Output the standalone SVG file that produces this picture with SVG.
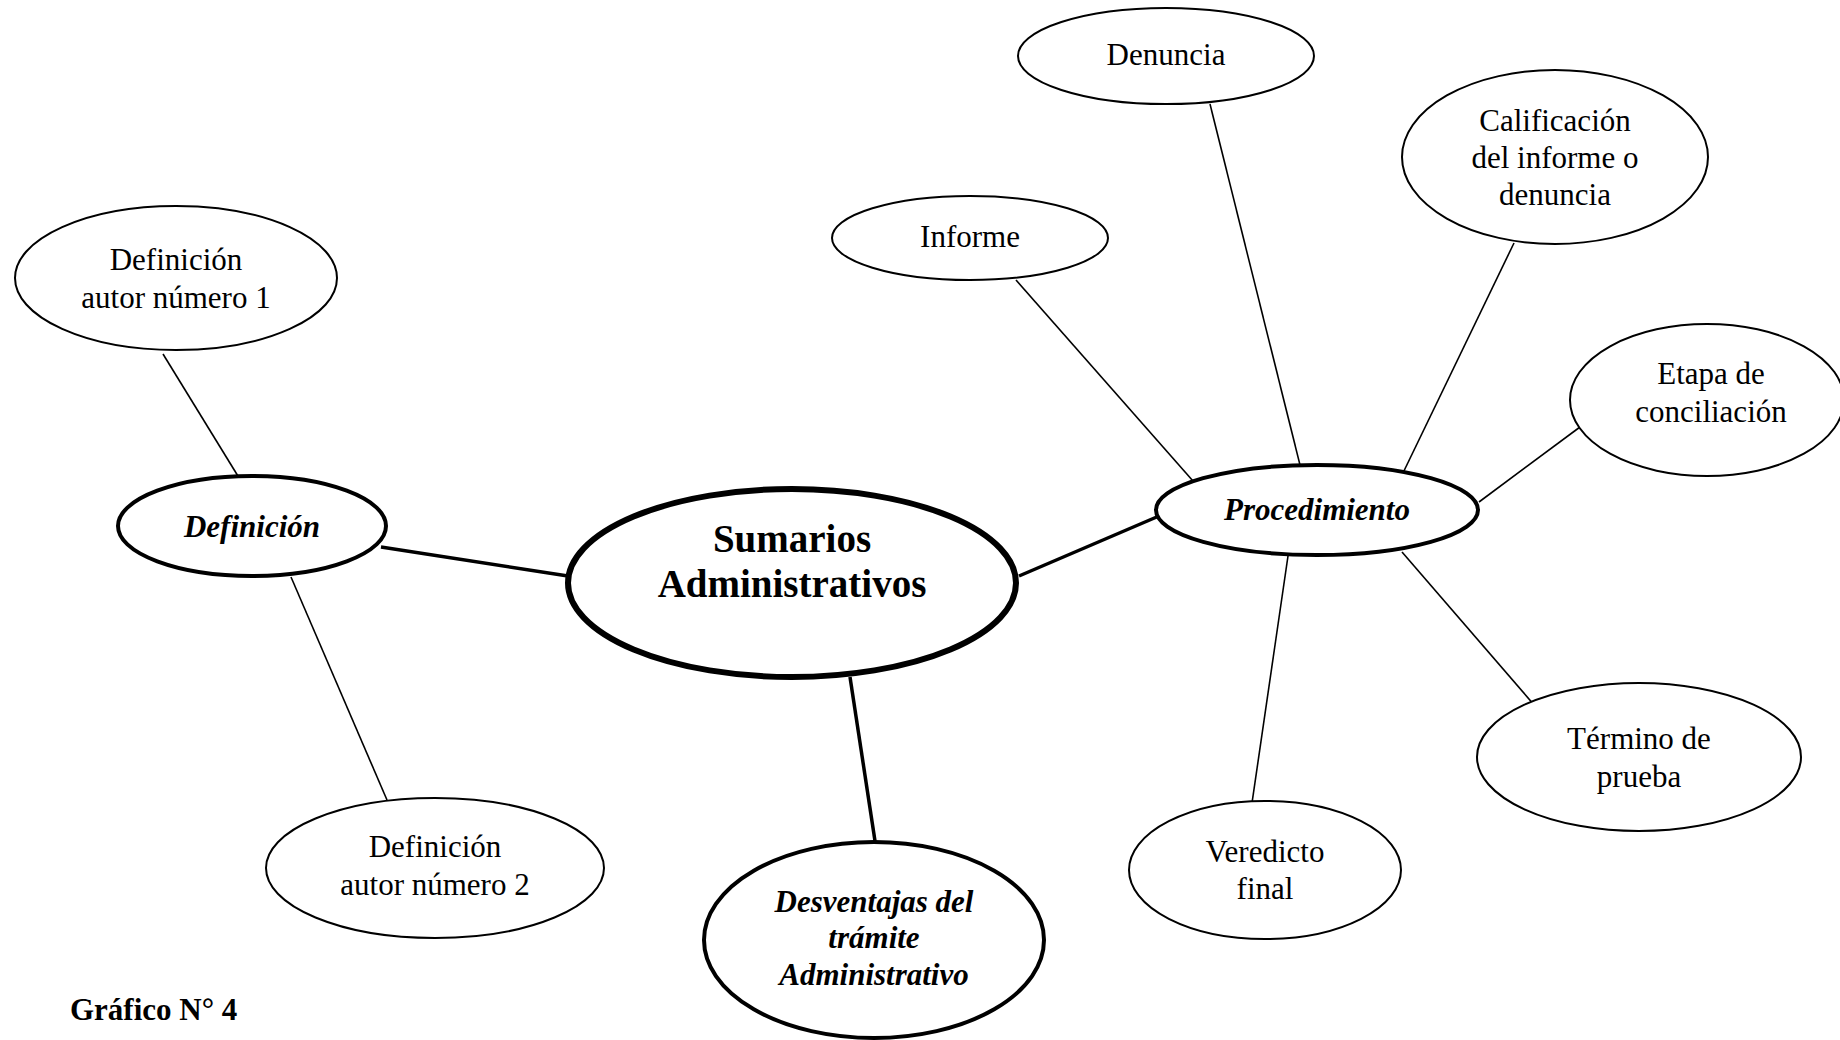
<svg xmlns="http://www.w3.org/2000/svg" width="1840" height="1040" viewBox="0 0 1840 1040">
<style>
text{font-family:"Liberation Serif","Times New Roman",serif;fill:#000;text-anchor:middle;}
.t{font-size:31px;}
.bi{font-size:31px;font-weight:bold;font-style:italic;}
.title{font-size:39px;font-weight:bold;}
.n1{fill:#fff;stroke:#000;stroke-width:2;}
.n2{fill:#fff;stroke:#000;stroke-width:4;}
.n3{fill:#fff;stroke:#000;stroke-width:6;}
.c1{stroke:#000;stroke-width:1.6;fill:none;}
.c2{stroke:#000;stroke-width:3.5;fill:none;}
</style>
<rect width="1840" height="1040" fill="#fff"/>
<g id="connectors">
<line class="c1" x1="163" y1="354" x2="241" y2="481"/>
<line class="c2" x1="381" y1="547" x2="568" y2="576"/>
<line class="c1" x1="291" y1="577" x2="387" y2="800"/>
<line class="c2" x1="850" y1="677" x2="875" y2="841"/>
<line class="c2" x1="1019" y1="576" x2="1159" y2="516"/>
<line class="c1" x1="1016" y1="280" x2="1193" y2="481"/>
<line class="c1" x1="1210" y1="104" x2="1300" y2="465"/>
<line class="c1" x1="1514" y1="243" x2="1402" y2="475"/>
<line class="c1" x1="1580" y1="427" x2="1479" y2="502"/>
<line class="c1" x1="1402" y1="552" x2="1535" y2="706"/>
<line class="c1" x1="1288" y1="556" x2="1252" y2="803"/>
</g>
<g id="autor1"><ellipse class="n1" cx="176" cy="278" rx="161" ry="72"/><text class="t" x="176" y="270">Definición</text><text class="t" x="176" y="308">autor número 1</text></g>
<g id="definicion"><ellipse class="n2" cx="252" cy="526" rx="134" ry="50"/><text class="bi" x="252" y="537">Definición</text></g>
<g id="autor2"><ellipse class="n1" cx="435" cy="868" rx="169" ry="70"/><text class="t" x="435" y="857">Definición</text><text class="t" x="435" y="895">autor número 2</text></g>
<g id="sumarios"><ellipse class="n3" cx="792" cy="583" rx="224" ry="94"/><text class="title" x="792" y="552">Sumarios</text><text class="title" x="792" y="597">Administrativos</text></g>
<g id="desventajas"><ellipse class="n2" cx="874" cy="940" rx="170" ry="98"/><text class="bi" x="874" y="912">Desventajas del</text><text class="bi" x="874" y="948">trámite</text><text class="bi" x="874" y="985">Administrativo</text></g>
<g id="procedimiento"><ellipse class="n2" cx="1317" cy="510" rx="161" ry="45"/><text class="bi" x="1317" y="520">Procedimiento</text></g>
<g id="informe"><ellipse class="n1" cx="970" cy="238" rx="138" ry="42"/><text class="t" x="970" y="247">Informe</text></g>
<g id="denuncia"><ellipse class="n1" cx="1166" cy="56" rx="148" ry="48"/><text class="t" x="1166" y="65">Denuncia</text></g>
<g id="calificacion"><ellipse class="n1" cx="1555" cy="157" rx="153" ry="87"/><text class="t" x="1555" y="131">Calificación</text><text class="t" x="1555" y="168">del informe o</text><text class="t" x="1555" y="205">denuncia</text></g>
<g id="etapa"><ellipse class="n1" cx="1707" cy="400" rx="137" ry="76"/><text class="t" x="1711" y="384">Etapa de</text><text class="t" x="1711" y="422">conciliación</text></g>
<g id="termino"><ellipse class="n1" cx="1639" cy="757" rx="162" ry="74"/><text class="t" x="1639" y="749">Término de</text><text class="t" x="1639" y="787">prueba</text></g>
<g id="veredicto"><ellipse class="n1" cx="1265" cy="870" rx="136" ry="69"/><text class="t" x="1265" y="862">Veredicto</text><text class="t" x="1265" y="899">final</text></g>
<text style="font-size:31px;font-weight:bold;text-anchor:start" x="70" y="1020">Gráfico N° 4</text>
</svg>
